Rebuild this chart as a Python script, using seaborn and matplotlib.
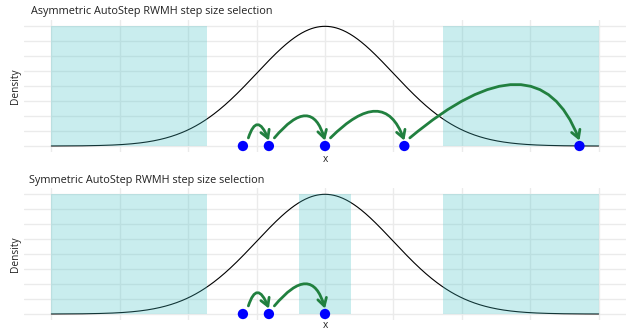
import numpy as np
import pandas as pd
import matplotlib
matplotlib.use("Agg")
import matplotlib.pyplot as plt
import seaborn as sns
from matplotlib.patches import FancyArrowPatch

# Target density: standard normal
mu, sigma = 0.0, 1.0
x_min, x_max = -4.0, 4.0

# Panel titles
titles = ["Asymmetric AutoStep RWMH step size selection",
          "Symmetric AutoStep RWMH step size selection"]

# Chain states visited in each panel
asym_states = [-1.2, -0.82, 0.0, 1.16, 3.72]
sym_states = [-1.2, -0.82, 0.0]

# Shaded acceptance regions (x intervals)
asym_regions = [(-4.0, -1.73), (1.73, 4.0)]
sym_regions = [(-4.0, -1.73), (-0.375, 0.375), (1.73, 4.0)]
region_top = 0.4

# Arc shapes (start/end angles, degrees) for each jump
asym_arcs = [(72, 112), (50, 106), (45, 110), (40, 111)]
sym_arcs = [(72, 112), (50, 106)]

sns.set_theme(style="white")
plt.rcParams["font.family"] = ["Open Sans", "DejaVu Sans"]

W, H = 626, 331
fig = plt.figure(figsize=(W / 100, H / 100), dpi=100)

def px_axes(x0, y0, x1, y1):
    return fig.add_axes([x0 / W, 1 - y1 / H, (x1 - x0) / W, (y1 - y0) / H])

grid_col = "#EBEBEB"
shade_col = "#40C0C4"
arrow_col = "#21803F"

xs = np.linspace(x_min, x_max, 600)
dens = np.exp(-0.5 * ((xs - mu) / sigma) ** 2) / (sigma * np.sqrt(2 * np.pi))
curve_df = pd.DataFrame({"x": xs, "density": dens})

def draw_panel(ax, states, regions, arcs):
    ax.set_xlim(x_min - 0.4, x_max + 0.4)
    ax.set_ylim(-0.02, 0.42)
    ax.set_xticks(np.arange(-4, 5, 1))
    ax.set_yticks(np.arange(0, 0.401, 0.05))
    ax.grid(True, color=grid_col, linewidth=1.0)
    ax.set_axisbelow(True)
    ax.tick_params(length=0, labelbottom=False, labelleft=False)
    for s in ax.spines.values():
        s.set_visible(False)

    sns.lineplot(data=curve_df, x="x", y="density", ax=ax, color="black",
                 linewidth=0.8, zorder=2)

    for a, b in regions:
        ax.fill_between([a, b], 0, region_top, color=shade_col, alpha=0.28,
                        linewidth=0, zorder=3)

    pts = pd.DataFrame({"x": states, "y": [0.0] * len(states)})
    sns.scatterplot(data=pts, x="x", y="y", ax=ax, color="#0000FF", s=55,
                    edgecolor="none", zorder=6, legend=False)
    ax.set_xlabel("")
    ax.set_ylabel("")

    for i, (angA, angB) in enumerate(arcs):
        start = (states[i] + 0.08, 0.027)
        end = (states[i + 1], 0.018)
        arr = FancyArrowPatch(start, end,
                              connectionstyle=f"angle3,angleA={angA},angleB={angB}",
                              arrowstyle="->,head_length=5.5,head_width=3.2",
                              color=arrow_col, linewidth=2.0,
                              shrinkA=0, shrinkB=0, zorder=5)
        ax.add_patch(arr)

ax1 = px_axes(24, 20, 626, 152)
ax2 = px_axes(24, 188, 626, 320)
draw_panel(ax1, asym_states, asym_regions, asym_arcs)
draw_panel(ax2, sym_states, sym_regions, sym_arcs)

title_fs = 7.8
lab_fs = 7.3
fig.text(31 / W, 1 - 11.7 / H, titles[0], ha="left", va="center",
         fontsize=title_fs, color="#222222")
fig.text(29 / W, 1 - 180.7 / H, titles[1], ha="left", va="center",
         fontsize=title_fs, color="#222222")
for yc in (86, 254):
    fig.text(15 / W, 1 - yc / H, "Density", rotation=90, ha="center",
             va="center", fontsize=lab_fs, color="#222222")
for yc in (160, 326):
    fig.text(325.5 / W, 1 - yc / H, "x", ha="center", va="center",
             fontsize=lab_fs, color="#222222")

fig.savefig("out.png", dpi=100)
